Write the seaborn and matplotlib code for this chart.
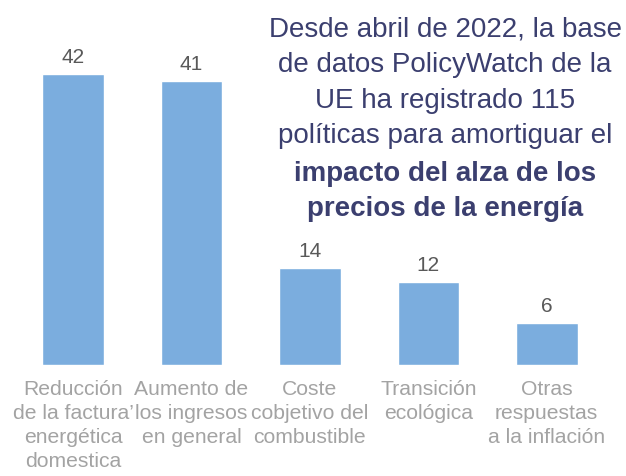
import matplotlib

matplotlib.use("Agg")
import matplotlib.pyplot as plt
import pandas as pd
import seaborn as sns

categories = [
    "Reducción\nde la factura’\nenergética\ndomestica",
    "Aumento de\nlos ingresos\nen general",
    "Coste\ncobjetivo del\ncombustible",
    "Transición\necológica",
    "Otras\nrespuestas\na la inflación",
]
values = [42, 41, 14, 12, 6]

BAR_COLOR = "#7badde"
LABEL_GREY = "#a3a3a3"
VALUE_GREY = "#595959"
NAVY = "#3b3f6f"


def main() -> None:
    sns.set_style("white")
    plt.rcParams["font.family"] = ["Liberation Sans", "DejaVu Sans"]

    frame = pd.DataFrame({"category": categories, "value": values})
    fig = plt.figure(figsize=(6.26, 4.77), dpi=100)
    ax = fig.add_axes([0.022, 0.2327, 0.946, 0.755])
    sns.barplot(data=frame, x="category", y="value", color=BAR_COLOR, width=0.52,
                saturation=1, ax=ax)
    ax.set_ylim(0, 52)
    ax.set_xlim(-0.5, 4.5)

    for i, v in enumerate(values):
        ax.annotate(str(v), (i, v), xytext=(0, 6), textcoords="offset points",
                    ha="center", va="bottom", fontsize=15, color=VALUE_GREY)

    ax.set_xlabel("")
    ax.set_ylabel("")
    ax.set_yticks([])
    ax.tick_params(axis="x", length=0, pad=10, labelsize=15.2, labelcolor=LABEL_GREY)
    for label in ax.get_xticklabels():
        label.set_linespacing(1.33)
        label.set_va("top")
    for spine in ax.spines.values():
        spine.set_visible(False)

    fig.text(0.711, 0.8265,
             "Desde abril de 2022, la base\nde datos PolicyWatch de la\nUE ha registrado 115\npolíticas para amortiguar el",
             ha="center", va="center", fontsize=20, color=NAVY, linespacing=1.49)
    fig.text(0.711, 0.5985, "impacto del alza de los\nprecios de la energía",
             ha="center", va="center", fontsize=20, color=NAVY, fontweight="bold",
             linespacing=1.49)

    fig.savefig("out.png", dpi=100)
    plt.close(fig)


if __name__ == "__main__":
    main()
